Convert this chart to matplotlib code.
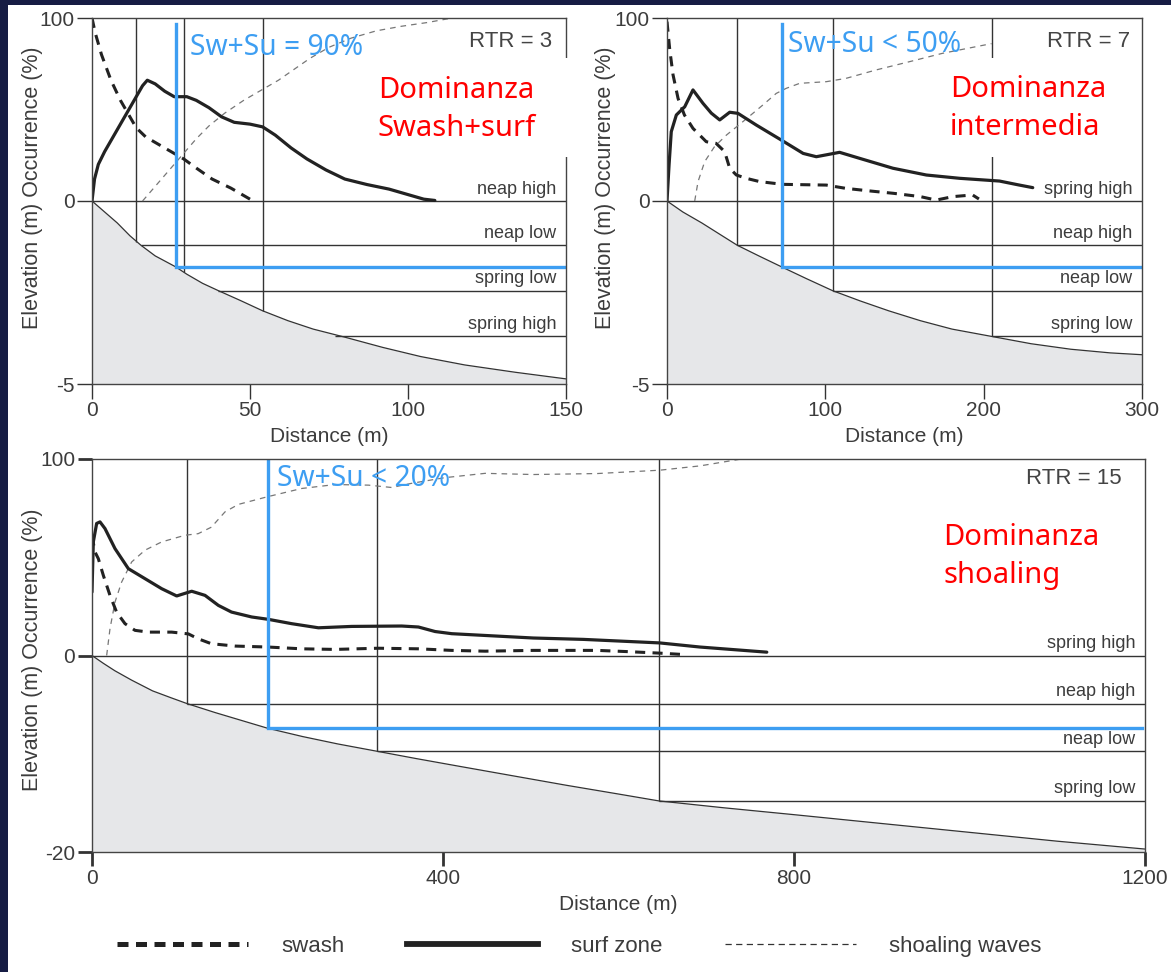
import numpy as np
import matplotlib

matplotlib.use("Agg")
import matplotlib.pyplot as plt
from matplotlib.lines import Line2D
from matplotlib.patches import Rectangle

plt.rcParams["font.family"] = ["Liberation Sans", "DejaVu Sans"]

W, H = 1171, 972

# ---------------- panel 1 : RTR = 3 ----------------
P1_SWASH_X = [0, 1, 3, 6, 9, 12, 14, 17, 21, 25, 29, 33, 38, 44, 50]
P1_SWASH_Y = [100, 92, 80, 66, 55, 46, 40, 35, 31, 27, 23, 18, 12, 7, 1]
P1_SURF_X = [0, 0.8, 2, 4, 7, 10, 13, 16, 17.5, 20, 23, 26, 30, 33, 37, 41, 45, 50, 54,
             58, 63, 68, 74, 80, 87, 94, 100, 105, 108.5]
P1_SURF_Y = [0, 12, 20, 27, 36, 45, 54, 63, 66, 64, 60, 57, 57, 55, 51, 46, 43, 42, 40.5,
             36, 29, 23, 17, 12, 9, 6.5, 3.5, 1, 0.3]
P1_SHOAL_X = [16, 19, 22, 26, 29, 33, 37, 42, 48, 54, 59, 64, 69, 75, 82, 90, 98, 106, 114]
P1_SHOAL_Y = [0, 6, 12, 20, 26, 34, 41, 48, 55, 61, 66, 72, 78, 84, 89, 93, 95.5, 97.5, 100]
P1_BED_X = [0, 4, 8, 12, 15.5, 20, 26.5, 30, 35, 40, 47, 54, 62, 70, 80, 92, 104, 118, 134, 150]
P1_BED_Z = [0, -0.3, -0.6, -0.95, -1.21, -1.5, -1.8, -2.0, -2.25, -2.45, -2.72, -3.0,
            -3.27, -3.5, -3.72, -4.0, -4.25, -4.48, -4.68, -4.86]
P1_TIDE_Z = [0, -1.21, -2.45, -3.7]
P1_TIDE_START = [0, 15.5, 40, 77]
P1_TIDE_NAMES = ["neap high", "neap low", "spring low", "spring high"]
P1_VLINE_X = [14, 29, 54]
P1_VLINE_Z = [-1.12, -1.94, -3.0]
P1_BLUE_X, P1_BLUE_Z = 26.5, -1.8
P1_XTICKS = [0, 50, 100, 150]

# ---------------- panel 2 : RTR = 7 ----------------
P2_SWASH_X = [0, 1.7, 3.8, 7, 11, 16.4, 24.8, 31, 36.4, 39.6, 43.8, 50, 58.5, 73, 100.6,
              113, 128, 143, 160, 170, 180.6, 193, 197]
P2_SWASH_Y = [98, 83, 69, 56, 47, 39.7, 32.4, 31.5, 27, 17.9, 14.2, 12.4, 10.6, 9.1, 8.7,
              6.9, 5.5, 4.2, 2.4, 0.5, 2.4, 3.3, 1.1]
P2_SURF_X = [0, 1.3, 2.7, 5.9, 11.2, 16.4, 22.7, 28, 33.3, 39.6, 44.8, 56.4, 72.2, 86, 94.3,
             109, 121.7, 142.7, 163.8, 184.8, 210, 222, 231]
P2_SURF_Y = [0, 19.7, 37.9, 47, 51.5, 60.7, 53.4, 48, 44.3, 48.5, 47.9, 41.5, 33.3, 26, 24.2,
             26.6, 23.3, 17.9, 14.2, 12.4, 10.9, 8.8, 7.3]
P2_SHOAL_X = [17.5, 19.6, 23.8, 30, 37.5, 48, 60.6, 69, 75.4, 83.8, 100.6, 113, 132, 153,
              174, 195, 205]
P2_SHOAL_Y = [0, 10.6, 21.5, 29.7, 36, 43.4, 52.5, 58.8, 61.6, 64.3, 65.2, 67, 71.6, 76.1,
              80.7, 84.3, 86]
P2_BED_X = [0, 10, 22, 33, 44.4, 58, 72.4, 88, 104.6, 122, 140, 160, 180, 205, 230, 255, 280, 300]
P2_BED_Z = [0, -0.3, -0.6, -0.9, -1.21, -1.5, -1.8, -2.12, -2.45, -2.73, -3.0, -3.27, -3.5,
            -3.7, -3.9, -4.05, -4.15, -4.2]
P2_TIDE_Z = [0, -1.21, -2.45, -3.7]
P2_TIDE_START = [0, 44.4, 104.6, 205]
P2_TIDE_NAMES = ["spring high", "neap high", "neap low", "spring low"]
P2_VLINE_X = [44.4, 104.6, 205]
P2_VLINE_Z = [-1.21, -2.45, -3.7]
P2_BLUE_X, P2_BLUE_Z = 72.4, -1.8
P2_XTICKS = [0, 100, 200, 300]

# ---------------- panel 3 : RTR = 15 ----------------
P3_SWASH_X = [0, 3.4, 7.2, 12.9, 20.5, 28, 37.6, 49, 64.2, 90.8, 109.8, 121, 136, 163, 201,
              239, 277, 326, 372, 410, 448, 503, 576, 609, 647, 674]
P3_SWASH_Y = [61, 52.7, 49.3, 40.8, 30.6, 22.1, 16.2, 12.8, 11.9, 11.9, 11, 8.5, 6, 4.8, 4.3,
              3.4, 3.1, 3.7, 3.4, 2.6, 2.2, 2.6, 2.6, 2.0, 1.2, 0.5]
P3_SURF_X = [0, 1.5, 5.3, 9.1, 14.8, 26.2, 41.4, 60.4, 79.4, 96.5, 113.6, 128.8, 144, 159, 182,
             201, 227.5, 258, 296, 353, 372, 391, 410, 448, 503, 560, 647, 693, 769]
P3_SURF_Y = [32.3, 57.8, 67.2, 68, 64.6, 54.4, 44.2, 39.1, 34, 30.3, 32.7, 30.6, 25.5, 22.1,
             19.6, 18.4, 16.2, 14.1, 14.8, 15, 14.5, 12.2, 11.1, 10.2, 8.9, 8.2, 6.4, 4.3, 1.7]
P3_SHOAL_X = [16.7, 20.5, 26.2, 33.8, 45.2, 60.4, 79.4, 106, 121, 136, 151.6, 166.8, 200,
              239, 277, 315, 341.5, 364, 402, 448, 503, 576, 647, 693, 740]
P3_SHOAL_Y = [0, 13.6, 27.2, 37.4, 47.6, 53.6, 57.8, 61.2, 62, 65.3, 73.1, 76.9, 80.8, 85,
              87, 86.7, 85.5, 87.6, 90.5, 92.7, 92.1, 92.6, 94.3, 96.5, 100]
P3_BED_X = [0, 13, 26, 45, 69, 90, 108.5, 140, 170, 200, 240, 280, 325, 370, 420, 480, 540,
            600, 646, 720, 800, 900, 1000, 1100, 1200]
P3_BED_Z = [0, -0.8, -1.55, -2.5, -3.6, -4.3, -4.9, -5.8, -6.6, -7.4, -8.25, -9.0, -9.75,
            -10.5, -11.3, -12.25, -13.2, -14.1, -14.8, -15.5, -16.2, -17.1, -18.0, -18.9, -19.7]
P3_TIDE_Z = [0, -4.9, -9.75, -14.8]
P3_TIDE_START = [0, 108.5, 325, 646]
P3_TIDE_NAMES = ["spring high", "neap high", "neap low", "spring low"]
P3_VLINE_X = [108.5, 325, 646]
P3_VLINE_Z = [-4.9, -9.75, -14.8]
P3_BLUE_X, P3_BLUE_Z = 200, -7.4
P3_XTICKS = [0, 400, 800, 1200]

INK = "#333333"
TXT = "#3c3c3c"
BLUE = "#3d9ef2"
RED = "#ff0000"
GROUND = "#e6e7e9"
SLIDE_FONT = ["Noto Sans", "DejaVu Sans"]


def draw_panel(ax, d):
    depth = d["depth"]
    xmax = d["xticks"][-1]

    def ez(z):
        # elevation (m) shares the axis with occurrence (%): -depth m sits at -100
        return np.asarray(z, dtype=float) / depth * 100.0

    ax.set_xlim(0, xmax)
    ax.set_ylim(-100, 100)

    ax.fill_between(d["bed_x"], ez(d["bed_z"]), -100, color=GROUND, lw=0, zorder=0.5)
    ax.plot(d["bed_x"], ez(d["bed_z"]), color=INK, lw=0.9, zorder=1)

    ax.vlines(d["vline_x"], ez(d["vline_z"]), 100, color=INK, lw=1.0, zorder=1)
    ax.hlines(ez(d["tide_z"]), d["tide_start"], xmax, color=INK, lw=1.0, zorder=1)
    for z, name in zip(d["tide_z"], d["tide_names"]):
        ax.annotate(name, xy=(1, ez(z)), xycoords=("axes fraction", "data"),
                    xytext=(-7, 2.5), textcoords="offset points", ha="right", va="bottom",
                    fontsize=13, color=TXT)

    ax.plot(d["shoal_x"], d["shoal_y"], color="#777777", lw=0.9, dashes=(4.5, 4), zorder=2)
    ax.plot(d["swash_x"], d["swash_y"], color="#222222", lw=2.2, dashes=(3.3, 2.4), zorder=2)
    ax.plot(d["surf_x"], d["surf_y"], color="#222222", lw=2.3, zorder=2.1,
            solid_capstyle="round")

    # blue threshold marker
    ax.plot([d["blue_x"], d["blue_x"], xmax * 0.997],
            [d["blue_top"], ez(d["blue_z"]), ez(d["blue_z"])],
            color=BLUE, lw=2.4, zorder=2.2, solid_joinstyle="miter")
    ax.text(d["blue_txt"][0], d["blue_txt"][1], d["blue_label"], color=BLUE,
            fontsize=20.3, family=SLIDE_FONT, va="center", ha="left", zorder=3)
    ax.text(d["rtr_txt"][0], d["rtr_txt"][1], d["rtr"], color="#444444", fontsize=16,
            va="center", ha="right", zorder=3)

    # white text frame of the slide, it hides the grid lines behind it
    mx0, my0, mx1, my1 = d["mask"]
    ax.add_patch(Rectangle((mx0, my0), mx1 - mx0, my1 - my0, transform=ax.transAxes,
                           facecolor="white", edgecolor="none", clip_on=False, zorder=2.9))
    ax.text(d["dom_txt"][0], d["dom_txt"][1], d["dom"], color=RED, fontsize=21,
            family=SLIDE_FONT, va="center", ha="left", linespacing=1.42, zorder=3)

    ax.set_xticks(d["xticks"])
    ax.set_xticklabels([str(t) for t in d["xticks"]])
    ax.set_yticks([100, 0, -100])
    ax.set_yticklabels(["100", "0", f"-{depth}"])
    ax.tick_params(axis="both", direction="out", colors=INK, labelcolor=TXT,
                   labelsize=15, length=d["ticklen"], width=d["tickw"], pad=2)
    for sp in ax.spines.values():
        sp.set_color("#444444")
        sp.set_linewidth(1.0)
    ax.set_xlabel("Distance (m)", fontsize=15, color=TXT, labelpad=5)
    ax.set_ylabel("Elevation (m) Occurrence (%)", fontsize=15.5, color=TXT)
    ax.yaxis.set_label_coords(*d["ylabel_at"])


fig = plt.figure(figsize=(W / 100, H / 100), dpi=100, facecolor="#161c44")
fig.patches.append(Rectangle((8 / W, 0), 1, 1 - 5 / H, transform=fig.transFigure,
                             facecolor="white", edgecolor="none", zorder=-10))


def fig_box(left, top, right, bottom):
    return [left / W, 1 - bottom / H, (right - left) / W, (bottom - top) / H]


ax1 = fig.add_axes(fig_box(92, 18, 566, 384))
ax2 = fig.add_axes(fig_box(667, 18, 1142, 384))
ax3 = fig.add_axes(fig_box(92, 459, 1145, 852))

draw_panel(ax1, dict(depth=5, xticks=P1_XTICKS, swash_x=P1_SWASH_X, swash_y=P1_SWASH_Y,
                     surf_x=P1_SURF_X, surf_y=P1_SURF_Y, shoal_x=P1_SHOAL_X, shoal_y=P1_SHOAL_Y,
                     bed_x=P1_BED_X, bed_z=P1_BED_Z, tide_z=P1_TIDE_Z, tide_start=P1_TIDE_START,
                     tide_names=P1_TIDE_NAMES, vline_x=P1_VLINE_X, vline_z=P1_VLINE_Z,
                     blue_x=P1_BLUE_X, blue_z=P1_BLUE_Z, blue_top=96.7,
                     blue_label="Sw+Su = 90%", blue_txt=(31, 84),
                     rtr="RTR = 3", rtr_txt=(145.5, 87),
                     dom="Dominanza\nSwash+surf", dom_txt=(90.5, 50),
                     mask=(0.591, 0.620, 1.013, 0.891), ylabel_at=(-0.103, 0.535),
                     ticklen=10.5, tickw=1.0))
draw_panel(ax2, dict(depth=5, xticks=P2_XTICKS, swash_x=P2_SWASH_X, swash_y=P2_SWASH_Y,
                     surf_x=P2_SURF_X, surf_y=P2_SURF_Y, shoal_x=P2_SHOAL_X, shoal_y=P2_SHOAL_Y,
                     bed_x=P2_BED_X, bed_z=P2_BED_Z, tide_z=P2_TIDE_Z, tide_start=P2_TIDE_START,
                     tide_names=P2_TIDE_NAMES, vline_x=P2_VLINE_X, vline_z=P2_VLINE_Z,
                     blue_x=P2_BLUE_X, blue_z=P2_BLUE_Z, blue_top=96.7,
                     blue_label="Sw+Su < 50%", blue_txt=(76.4, 85.5),
                     rtr="RTR = 7", rtr_txt=(292.5, 87),
                     dom="Dominanza\nintermedia", dom_txt=(178.8, 50.5),
                     mask=(0.579, 0.620, 0.949, 0.891), ylabel_at=(-0.107, 0.535),
                     ticklen=10.5, tickw=1.0))
draw_panel(ax3, dict(depth=20, xticks=P3_XTICKS, swash_x=P3_SWASH_X, swash_y=P3_SWASH_Y,
                     surf_x=P3_SURF_X, surf_y=P3_SURF_Y, shoal_x=P3_SHOAL_X, shoal_y=P3_SHOAL_Y,
                     bed_x=P3_BED_X, bed_z=P3_BED_Z, tide_z=P3_TIDE_Z, tide_start=P3_TIDE_START,
                     tide_names=P3_TIDE_NAMES, vline_x=P3_VLINE_X, vline_z=P3_VLINE_Z,
                     blue_x=P3_BLUE_X, blue_z=P3_BLUE_Z, blue_top=100,
                     blue_label="Sw+Su < 20%", blue_txt=(211, 90),
                     rtr="RTR = 15", rtr_txt=(1173, 90),
                     dom="Dominanza\nshoaling", dom_txt=(970, 50.5),
                     mask=(0.80, 0.623, 0.967, 0.883), ylabel_at=(-0.0465, 0.514),
                     ticklen=10, tickw=2.0))

handles = [
    Line2D([], [], color="#222222", lw=3.6, dashes=(2.2, 1.5)),
    Line2D([], [], color="#222222", lw=4.2),
    Line2D([], [], color="#333333", lw=0.9, dashes=(5, 3.5)),
]
fig.legend(handles, ["swash", "surf zone", "shoaling waves"], loc="center",
           bbox_to_anchor=(0.4945, 1 - 946 / H), ncol=3, frameon=False, fontsize=16,
           handlelength=5.9, handletextpad=1.5, columnspacing=2.8, labelcolor=TXT)

fig.savefig("out.png", dpi=100, facecolor=fig.get_facecolor())
